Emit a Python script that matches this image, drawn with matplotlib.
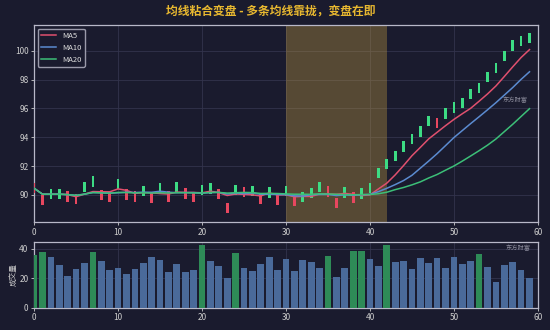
import matplotlib
matplotlib.use("Agg")
import matplotlib.pyplot as plt
import numpy as np
import pandas as pd

plt.rcParams['font.family'] = ['Noto Sans CJK SC', 'DejaVu Sans']

# price series (candle centres) and volume
price = [90.45, 89.63, 90.04, 90.05, 89.88, 89.72, 90.53, 90.93, 89.98, 89.86,
         90.74, 90.03, 89.87, 90.24, 89.82, 90.46, 89.87, 90.55, 90.10, 89.83,
         90.33, 90.43, 90.06, 89.10, 90.35, 90.20, 90.25, 89.70, 90.15, 89.65,
         90.24, 89.55, 89.85, 90.12, 90.52, 90.23, 89.44, 90.15, 89.82, 90.10,
         90.45, 91.50, 92.15, 92.70, 93.35, 93.88, 94.40, 95.12, 94.98, 95.65,
         96.06, 96.37, 97.02, 97.43, 98.18, 98.83, 99.66, 100.38, 100.68, 100.92]
volume = [36.1, 38.0, 34.5, 29.3, 21.7, 26.3, 30.6, 38.0, 31.8, 25.8,
          27.2, 22.9, 26.3, 30.2, 34.5, 32.7, 24.7, 29.9, 24.7, 25.6,
          42.5, 32.0, 28.6, 20.6, 37.5, 27.4, 25.1, 29.9, 34.5, 25.8,
          33.0, 25.1, 32.7, 31.0, 27.2, 35.4, 21.3, 27.4, 38.6, 38.4,
          32.9, 28.1, 42.5, 31.0, 32.0, 26.3, 33.8, 30.4, 33.8, 27.2,
          34.5, 29.9, 32.0, 36.8, 27.7, 17.6, 29.3, 30.9, 25.6, 20.1]
ma_windows = [5, 10, 20]
ma_colors = ["#e0506e", "#5b8bd0", "#3cbf78"]
zone = (30, 42)
vol_threshold = 35

BG = "#1a1b2e"
UP = "#3ddc84"
DOWN = "#e8475f"

x = np.arange(len(price))
p = pd.Series(price)
up = p.diff().fillna(-1) > 0

fig = plt.figure(figsize=(5.5, 3.3), dpi=100, facecolor=BG)
ax = fig.add_axes([0.062, 0.327, 0.916, 0.597], facecolor=BG)
axv = fig.add_axes([0.062, 0.067, 0.916, 0.2], facecolor=BG)

# candles
half = 0.36
ax.bar(x, 2 * half, bottom=p - half, width=0.32,
       color=np.where(up, UP, DOWN), zorder=3)

for w, c in zip(ma_windows, ma_colors):
    ax.plot(x, p.rolling(w, min_periods=1).mean(), color=c, lw=1.1,
            label=f"MA{w}", zorder=4)

ax.axvspan(*zone, color="#c8a040", alpha=0.35, lw=0, zorder=1)

ax.set_xlim(0, 60)
ax.set_ylim(88.1, 101.8)
ax.set_yticks(np.arange(90, 101, 2))
fig.suptitle("均线粘合变盘 - 多条均线靠拢，变盘在即", color="#e8b830",
             fontsize=8.5, fontweight="bold", x=0.493, y=0.985)
ax.text(0.98, 0.62, "东方财富", transform=ax.transAxes, color="#8a8a9a",
        fontsize=4.5, ha="right", va="center")
leg = ax.legend(loc="upper left", fontsize=5.5, facecolor=BG, edgecolor="#9a9aaa",
                labelcolor="#dddddd", framealpha=1)

# volume
axv.bar(x, volume, width=0.8,
        color=["#2e8b57" if v > vol_threshold else "#4a6a9a" for v in volume],
        zorder=3)
axv.set_xlim(0, 60)
axv.set_ylim(0, 44.8)
axv.set_yticks([0, 20, 40])
axv.set_ylabel("成交量", color="#cccccc", fontsize=5.5, labelpad=1)
axv.text(0.985, 0.88, "东方财富", transform=axv.transAxes, color="#8a8a9a",
         fontsize=4.5, ha="right")

for a in (ax, axv):
    a.grid(True, color="#33344c", lw=0.6, zorder=0)
    a.set_axisbelow(True)
    a.tick_params(colors="#cccccc", labelsize=6, length=2, width=0.6, pad=2)
    for s in a.spines.values():
        s.set_color("#b8b8c8")
        s.set_linewidth(0.9)

fig.savefig("out.png", dpi=100, facecolor=BG)
